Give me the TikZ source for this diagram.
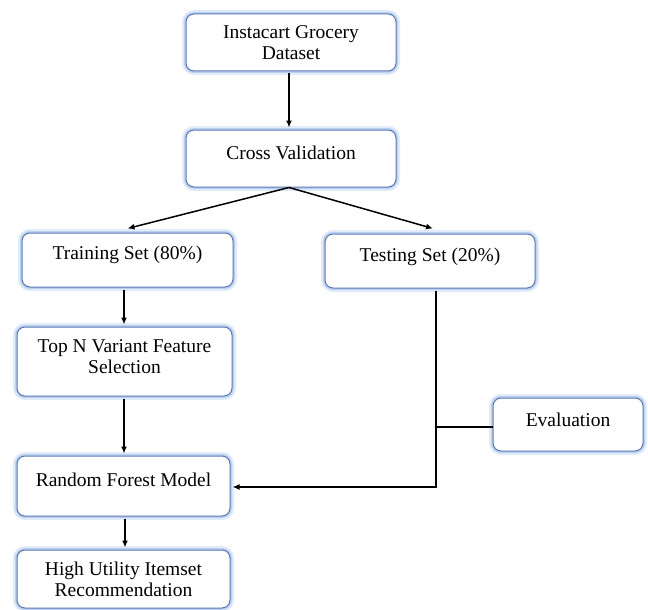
\documentclass[tikz,border=0pt]{standalone}
\usepackage{fontspec}
\setmainfont{Liberation Serif}
\usetikzlibrary{arrows.meta,calc}
\definecolor{boxborder}{HTML}{5878B4}
\definecolor{glowA}{HTML}{E2EBF9}
\definecolor{glowB}{HTML}{BCD0F0}
\begin{document}
\begin{tikzpicture}[x=1pt,y=-1pt,
  flowbox/.style={rectangle, rounded corners=8pt, draw=boxborder, line width=1pt, fill=white,
    preaction={draw=glowA, line width=8pt},
    preaction={draw=glowB, line width=4pt},
    inner sep=0pt},
  boxtext/.style={align=center, font=\fontsize{19.5}{21}\selectfont, inner sep=0pt},
  arr/.style={line width=1.5pt, -{Latex[length=7pt,width=6pt]}},
  plain/.style={line width=1.5pt}]
\useasboundingbox (0,0) rectangle (648,610);
% boxes
\node[flowbox, minimum width=210pt, minimum height=57pt] (ins) at (291,42.5) {};
\node[flowbox, minimum width=210pt, minimum height=57pt] (cv) at (291,158.5) {};
\node[flowbox, minimum width=211pt, minimum height=54pt] (tr) at (127.5,260) {};
\node[flowbox, minimum width=210pt, minimum height=54pt] (te) at (430,261) {};
\node[flowbox, minimum width=215pt, minimum height=69pt] (topn) at (124.5,361.5) {};
\node[flowbox, minimum width=150pt, minimum height=53pt] (ev) at (568,424.5) {};
\node[flowbox, minimum width=213pt, minimum height=60pt] (rf) at (123.5,486) {};
\node[flowbox, minimum width=213pt, minimum height=58pt] (hu) at (123.5,579) {};
% texts
\node[boxtext] (inst) at (291,42.5) {Instacart Grocery\\Dataset};
\node[boxtext] (cvt) at (291,153) {Cross Validation};
\node[boxtext] (trt) at (127.5,255) {Training Set (80\%)};
\node[boxtext] (tet) at (430,257) {Testing Set (20\%)};
\node[boxtext] (topnt) at (124.5,356.5) {Top N Variant Feature\\Selection};
\node[boxtext] (evt) at (568,420) {Evaluation};
\node[boxtext] (rft) at (123.5,480) {Random Forest Model};
\node[boxtext] (hut) at (123.5,579) {High Utility Itemset\\Recommendation};
% connectors
\coordinate (tb) at (436,487);
\draw[arr] ($(ins.south)+(-2,2)$) -- ($(cv.north)+(-2,-2)$);
\draw[arr] ($(cv.south)+(-2,0)$) -- ($(tr.north)+(0,-4)$);
\draw[arr] ($(cv.south)+(-2,0)$) -- ($(te.north)+(3,-5)$);
\draw[arr] ($(topn.north |- tr.south)+(-0.5,2)$) -- ($(topn.north)+(-0.5,-2)$);
\draw[arr] ($(rf.north |- topn.south)+(0.5,2)$) -- ($(rf.north)+(0.5,-2)$);
\draw[arr] ($(rf.south)+(1.5,2)$) -- ($(hu.north)+(1.5,-2)$);
\draw[arr] ($(te.south -| tb)+(0,2)$) |- ($(rf.east)+(2,1)$);
\draw[plain] ($(ev.west)+(0,2.5)$) -- ($(ev.west -| tb)+(0,2.5)$);
\end{tikzpicture}
\end{document}
